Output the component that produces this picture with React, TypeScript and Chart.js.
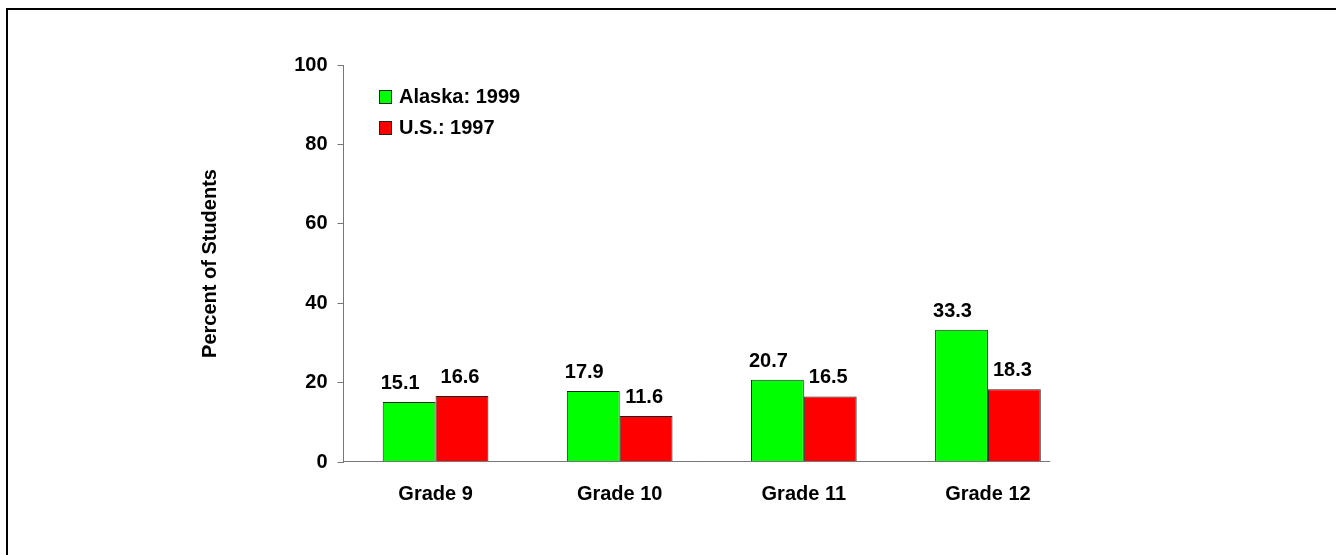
import React, { useEffect, useRef } from "react";
import { Chart, registerables } from "chart.js";

Chart.register(...registerables);

const categories = ["Grade 9", "Grade 10", "Grade 11", "Grade 12"];
const alaska1999 = [15.1, 17.9, 20.7, 33.3];
const us1997 = [16.6, 11.6, 16.5, 18.3];
const seriesLabels = ["Alaska: 1999", "U.S.: 1997"];
const seriesColors = ["#00FF00", "#FF0000"];
const yTicks = [0, 20, 40, 60, 80, 100];
const yAxisTitle = "Percent of Students";

const FONT = "'Liberation Sans', Arial, Helvetica, sans-serif";
const AXIS_COLOR = "#777777";

const valueLabelPlugin = {
  id: "valueLabels",
  afterDatasetsDraw(chart: any) {
    const ctx = chart.ctx;
    ctx.save();
    ctx.font = `bold 20px ${FONT}`;
    ctx.fillStyle = "#000";
    ctx.textAlign = "center";
    ctx.textBaseline = "alphabetic";
    chart.data.datasets.forEach((ds: any, di: number) => {
      const meta = chart.getDatasetMeta(di);
      const shift = di === 0 ? -9 : -2;
      meta.data.forEach((bar: any, i: number) => {
        const v = ds.data[i];
        ctx.fillText(v.toFixed(1), bar.x + shift, bar.y - 13);
      });
    });
    ctx.restore();
  },
};

const xAxisLinePlugin = {
  id: "xAxisLine",
  afterDatasetsDraw(chart: any) {
    const ctx = chart.ctx;
    const area = chart.chartArea;
    const lastDs = chart.data.datasets.length - 1;
    const meta = chart.getDatasetMeta(lastDs);
    const lastBar = meta.data[meta.data.length - 1];
    const end = lastBar.x + lastBar.width / 2 + 9.5;
    const y = Math.round(area.bottom) - 0.5;
    ctx.save();
    ctx.strokeStyle = AXIS_COLOR;
    ctx.lineWidth = 1;
    ctx.beginPath();
    ctx.moveTo(area.left, y);
    ctx.lineTo(end, y);
    ctx.stroke();
    ctx.restore();
  },
};

const insideLegendPlugin = {
  id: "insideLegend",
  afterDraw(chart: any) {
    const ctx = chart.ctx;
    const area = chart.chartArea;
    const boxLeft = Math.round(area.left + 35.5);
    const firstTop = Math.round(area.top + 25);
    const rowGap = 31;
    ctx.save();
    ctx.font = `bold 20px ${FONT}`;
    ctx.textAlign = "left";
    ctx.textBaseline = "middle";
    chart.data.datasets.forEach((ds: any, i: number) => {
      const top = firstTop + i * rowGap;
      ctx.fillStyle = ds.backgroundColor;
      ctx.fillRect(boxLeft, top, 13, 14);
      ctx.strokeStyle = "#222";
      ctx.lineWidth = 1;
      ctx.strokeRect(boxLeft + 0.5, top + 0.5, 12, 13);
      ctx.fillStyle = "#000";
      ctx.fillText(ds.label, boxLeft + 20, top + 7.5);
    });
    ctx.restore();
  },
};

export default function App() {
  const canvasRef = useRef<HTMLCanvasElement | null>(null);

  useEffect(() => {
    if (!canvasRef.current) return;
    const tickFont = { family: FONT, size: 20, weight: "bold" as const };
    const chart = new Chart(canvasRef.current, {
      type: "bar",
      data: {
        labels: categories,
        datasets: [
          {
            label: seriesLabels[0],
            data: alaska1999,
            backgroundColor: seriesColors[0],
            borderColor: "#222",
            borderWidth: 1,
            categoryPercentage: 0.574,
            barPercentage: 1,
          },
          {
            label: seriesLabels[1],
            data: us1997,
            backgroundColor: seriesColors[1],
            borderColor: "#222",
            borderWidth: 1,
            categoryPercentage: 0.574,
            barPercentage: 1,
          },
        ],
      },
      options: {
        responsive: false,
        animation: false,
        events: [],
        layout: { padding: { left: 0, top: 65, right: 256, bottom: 0 } },
        plugins: {
          legend: { display: false },
          tooltip: { enabled: false },
        },
        scales: {
          x: {
            type: "category",
            offset: true,
            grid: { display: false, drawTicks: false },
            border: { display: false },
            ticks: {
              color: "#000",
              font: tickFont,
              padding: 20,
              maxRotation: 0,
              autoSkip: false,
            },
            afterFit: (s: any) => {
              s.height = 93;
            },
          },
          y: {
            min: 0,
            max: 100,
            afterBuildTicks: (s: any) => {
              s.ticks = yTicks.map((v) => ({ value: v }));
            },
            ticks: { color: "#000", font: tickFont, padding: 10 },
            grid: {
              drawOnChartArea: false,
              drawTicks: true,
              tickLength: 6,
              color: AXIS_COLOR,
            },
            border: { display: true, color: AXIS_COLOR, width: 1 },
            title: {
              display: true,
              text: yAxisTitle,
              color: "#000",
              font: tickFont,
              padding: { top: 198, bottom: 0 },
            },
            afterFit: (s: any) => {
              s.width = 343.5;
            },
          },
        },
      },
      plugins: [xAxisLinePlugin, valueLabelPlugin, insideLegendPlugin],
    } as any);
    return () => chart.destroy();
  }, []);

  return (
    <div
      style={{
        position: "absolute",
        left: 0,
        top: 0,
        width: 1336,
        height: 555,
        overflow: "hidden",
        background: "#fff",
      }}
    >
      <div
        style={{
          position: "absolute",
          left: 6,
          top: 8,
          width: 1330,
          height: 547,
          borderTop: "2px solid #000",
          borderLeft: "2px solid #000",
          boxSizing: "border-box",
        }}
      />
      <canvas
        ref={canvasRef}
        width={1336}
        height={555}
        style={{ position: "absolute", left: 0, top: 0, display: "block" }}
      />
    </div>
  );
}
